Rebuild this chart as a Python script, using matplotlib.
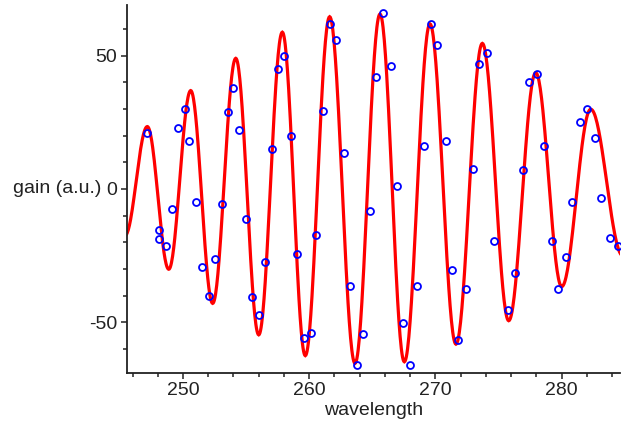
import numpy as np
import matplotlib
matplotlib.use("Agg")
import matplotlib.pyplot as plt
from matplotlib.ticker import MultipleLocator
from matplotlib.transforms import blended_transform_factory

# extrema of the fitted curve
curve_x = [245.40, 247.17, 248.87, 250.61, 252.35, 254.18, 256.00, 257.87, 259.69, 261.62,
           263.63, 265.61, 267.54, 269.57, 271.63, 273.72, 275.81, 277.95, 280.01, 282.31, 284.85]
curve_y = [-17.5, 23.4, -30.1, 36.9, -42.9, 49.0, -54.7, 58.8, -62.5, 64.6,
           -65.4, 65.6, -64.8, 61.9, -58.2, 54.6, -49.4, 43.6, -36.6, 29.9, -25.0]

# measured points
meas_x = [247.17, 248.07, 248.07, 248.63, 249.10, 249.63, 250.16, 250.50, 251.03, 251.53,
          252.04, 252.56, 253.07, 253.59, 253.99, 254.46, 254.97, 255.47, 256.00, 256.52,
          257.03, 257.53, 258.03, 258.56, 259.03, 259.56, 260.12, 260.56, 261.09, 261.62,
          262.10, 262.73, 263.26, 263.79, 264.26, 264.82, 265.29, 265.82, 266.46, 266.96,
          267.43, 267.96, 268.52, 269.10, 269.63, 270.15, 270.82, 271.29, 271.79, 272.45,
          272.98, 273.48, 274.06, 274.64, 275.75, 276.28, 276.92, 277.39, 278.05, 278.58,
          279.22, 279.69, 280.35, 280.85, 281.48, 281.99, 282.62, 283.12, 283.81, 284.44]
meas_y = [20.9, -15.3, -18.9, -21.3, -7.5, 22.8, 30.0, 17.9, -5.0, -29.1,
          -40.0, -26.1, -5.6, 28.8, 37.8, 22.1, -11.1, -40.6, -47.2, -27.4,
          14.9, 45.0, 49.8, 19.8, -24.4, -55.8, -53.9, -17.1, 29.2, 61.8,
          55.9, 13.6, -36.4, -66.0, -54.5, -8.1, 42.0, 66.1, 46.2, 1.0,
          -50.2, -66.0, -36.4, 16.1, 61.9, 54.1, 17.9, -30.4, -56.7, -37.6,
          7.6, 47.0, 51.1, -19.5, -45.5, -31.6, 7.0, 40.2, 43.2, 16.1,
          -19.5, -37.6, -25.5, -5.0, 25.0, 30.0, 19.1, -3.3, -18.3, -21.3]

# smooth line through the extrema (half-cosine between neighbours)
lx, ly = [], []
for i in range(len(curve_x) - 1):
    t = np.linspace(0, 1, 40, endpoint=False)
    s = (1 - np.cos(np.pi * t)) / 2
    lx.extend(curve_x[i] + (curve_x[i + 1] - curve_x[i]) * t)
    ly.extend(curve_y[i] + (curve_y[i + 1] - curve_y[i]) * s)
lx.append(curve_x[-1])
ly.append(curve_y[-1])

plt.rcParams['font.family'] = ['Liberation Sans', 'DejaVu Sans']
plt.rcParams['axes.unicode_minus'] = False

fig = plt.figure(figsize=(6.21, 4.26), dpi=100)
ax = fig.add_axes([127 / 621, 1 - 372.7 / 426, 493 / 621, 367.7 / 426])

ax.plot(lx, ly, color='#ff0000', linewidth=2.3, solid_joinstyle='miter', zorder=2)
ax.plot(meas_x, meas_y, linestyle='none', marker='o', markersize=5,
        markerfacecolor='none', markeredgecolor='#0000ff', markeredgewidth=1.3, zorder=3)

ax.set_xlim(245.56, 284.63)
ax.set_ylim(-68.9, 69.0)

for side in ('top', 'right'):
    ax.spines[side].set_visible(False)
for side in ('left', 'bottom'):
    ax.spines[side].set_linewidth(1.3)
    ax.spines[side].set_color('#222222')

ax.xaxis.set_major_locator(MultipleLocator(10))
ax.xaxis.set_minor_locator(MultipleLocator(2))
ax.yaxis.set_major_locator(MultipleLocator(50))
ax.yaxis.set_minor_locator(MultipleLocator(10))
ax.tick_params(which='major', length=4, width=1.1, labelsize=14, pad=3, colors='#222222')
ax.tick_params(which='minor', length=3, width=1.1, colors='#222222')

ax.set_xlabel('wavelength', fontsize=14, labelpad=2, color='#222222')
ax.set_ylabel('gain (a.u.)', fontsize=14, rotation=0, ha='right', va='center', color='#222222')
ax.yaxis.set_label_coords(-0.052, 0, transform=blended_transform_factory(ax.transAxes, ax.transData))

fig.savefig('out.png', dpi=100)
